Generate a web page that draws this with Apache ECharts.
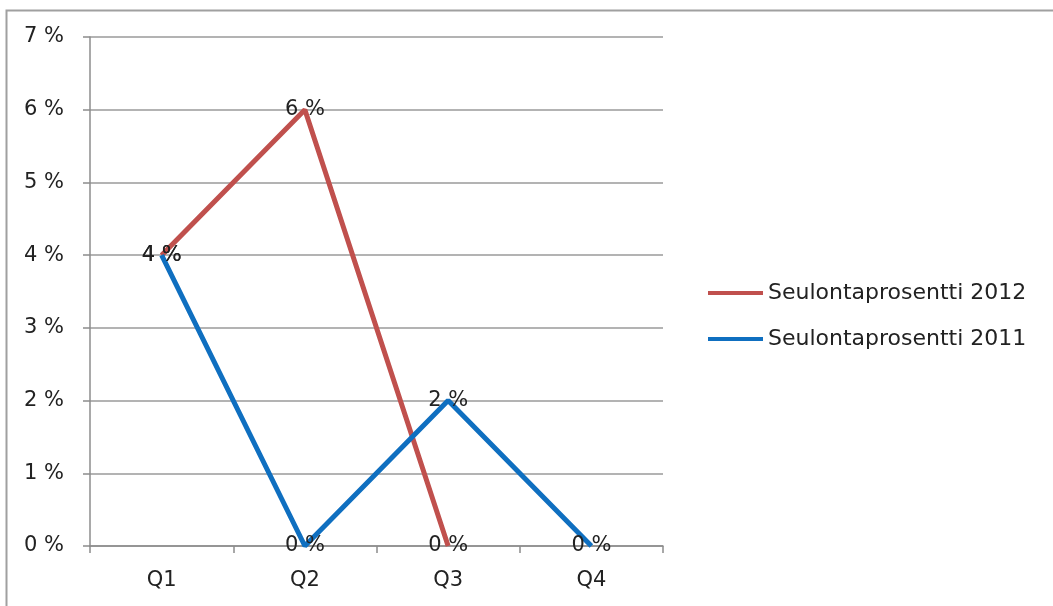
<!DOCTYPE html>
<html>
<head>
<meta charset="utf-8">
<script src="https://cdn.jsdelivr.net/npm/echarts@6/dist/echarts.min.js"></script>
<style>html,body{margin:0;padding:0;background:#fff}#c{width:1053px;height:606px}</style>
</head>
<body>
<div id="c"></div>
<script>
var categories = ['Q1', 'Q2', 'Q3', 'Q4'];
var seriesNames = ['Seulontaprosentti 2012', 'Seulontaprosentti 2011'];
var values2012 = [4, 6, 0, null];
var values2011 = [4, 0, 2, 0];
var yTicks = [0, 1, 2, 3, 4, 5, 6, 7];

var FONT = 'DejaVu Sans';
var TXT = '#222';
var chart = echarts.init(document.getElementById('c'), null, {renderer: 'canvas'});
function mkSeries(name, data, color) {
  return {
    name: name, type: 'line', data: data,
    symbol: 'circle', symbolSize: 0, showSymbol: true,
    lineStyle: {color: color, width: 5},
    itemStyle: {color: color},
    label: {show: true, position: 'inside', formatter: function(p){ return p.value + ' %'; },
      color: TXT, fontFamily: FONT, fontSize: 21},
    emphasis: {disabled: true},
    connectNulls: false,
    animation: false
  };
}
chart.setOption({
  animation: false,
  graphic: [{type: 'rect', left: 4, top: 8, shape: {width: 1200, height: 800},
    style: {fill: 'none', stroke: '#a0a0a0', lineWidth: 2}, z: -1}],
  grid: {left: 90, right: 390, top: 37, bottom: 60, containLabel: false},
  legend: {
    orient: 'vertical', left: 703, top: 277, itemGap: 24,
    icon: 'rect', itemWidth: 55, itemHeight: 4,
    textStyle: {fontFamily: FONT, fontSize: 22, color: TXT, padding: [0,0,0,0]},
    data: seriesNames
  },
  xAxis: {
    type: 'category', data: categories, boundaryGap: true,
    axisLine: {lineStyle: {color: '#8c8c8c', width: 1.5}},
    axisTick: {show: true, length: 7, inside: false, lineStyle: {color: '#8c8c8c', width: 1.5}},
    axisLabel: {margin: 24, color: TXT, fontFamily: FONT, fontSize: 21},
    splitLine: {show: false}
  },
  yAxis: {
    type: 'value', min: 0, max: 7, interval: 1,
    axisLine: {show: true, lineStyle: {color: '#8c8c8c', width: 1.5}},
    axisTick: {show: true, length: 7, lineStyle: {color: '#8c8c8c', width: 1.5}},
    axisLabel: {margin: 26, color: TXT, fontFamily: FONT, fontSize: 21,
      formatter: function(v){ return yTicks.indexOf(v) >= 0 ? v + ' %' : ''; }},
    splitLine: {show: true, lineStyle: {color: '#9a9a9a', width: 1.5}}
  },
  series: [
    mkSeries(seriesNames[0], values2012, '#c0504d'),
    mkSeries(seriesNames[1], values2011, '#0f6fc0')
  ]
});
</script>
</body>
</html>
